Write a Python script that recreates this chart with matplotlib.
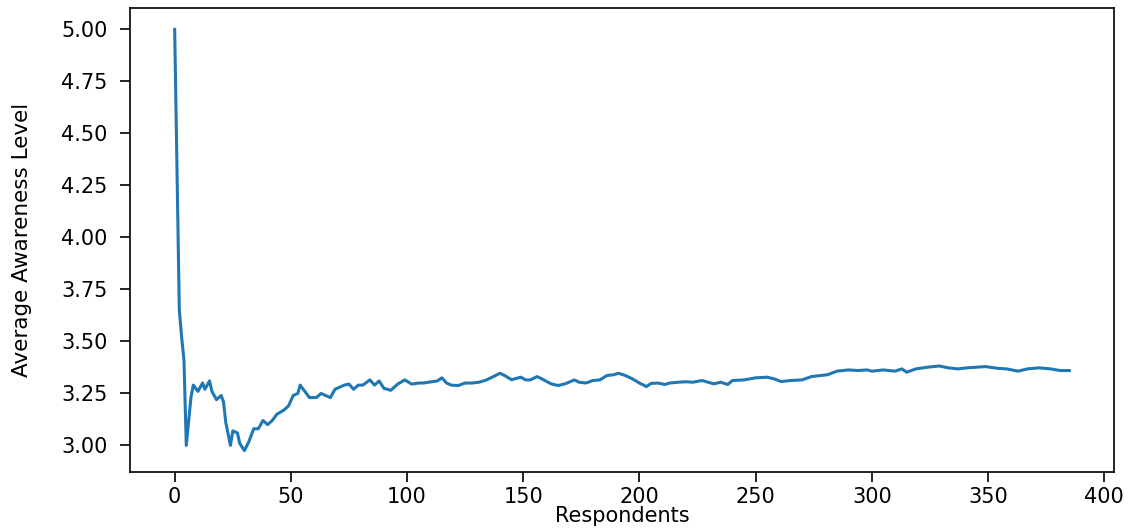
import matplotlib
matplotlib.use("Agg")
import matplotlib.pyplot as plt

# running average awareness level
respondents = [0, 2, 3, 4, 5, 7, 8, 10, 12, 13, 15, 16, 18, 20, 21, 22, 24, 25, 27,
               28, 30, 32, 34, 36, 38, 40, 42, 44, 47, 49, 51, 53, 54, 56, 58, 61, 63, 65, 67,
               69, 71, 73, 75, 77, 79, 81, 84, 86, 88, 90, 93, 96, 99, 102, 105, 107, 110, 113, 115,
               117, 119, 122, 125, 128, 131, 134, 137, 140, 142, 145, 149, 151, 153, 156, 158, 162, 165, 168, 172,
               174, 177, 180, 183, 186, 189, 191, 194, 197, 200, 203, 205, 208, 211, 213, 217, 220, 223, 227, 232,
               235, 238, 240, 245, 250, 255, 258, 261, 265, 270, 274, 278, 281, 285, 290, 294, 298, 300, 305, 310,
               313, 315, 319, 324, 329, 333, 337, 341, 345, 349, 354, 358, 363, 367, 372, 377, 381, 385]
avg_awareness = [5.0, 3.65, 3.52, 3.41, 3.0, 3.23, 3.29, 3.26, 3.30, 3.27, 3.31, 3.26, 3.22, 3.24, 3.21, 3.11, 3.00, 3.07, 3.06,
                 3.01, 2.975, 3.02, 3.08, 3.08, 3.12, 3.10, 3.12, 3.15, 3.17, 3.19, 3.24, 3.25, 3.29, 3.26, 3.23, 3.23, 3.25, 3.24, 3.23,
                 3.27, 3.28, 3.29, 3.295, 3.27, 3.29, 3.29, 3.315, 3.29, 3.31, 3.275, 3.265, 3.295, 3.315, 3.295, 3.30, 3.30, 3.305, 3.31, 3.325,
                 3.30, 3.29, 3.288, 3.30, 3.30, 3.304, 3.314, 3.33, 3.347, 3.336, 3.316, 3.328, 3.315, 3.315, 3.331, 3.32, 3.296, 3.288, 3.296, 3.315,
                 3.304, 3.30, 3.312, 3.315, 3.336, 3.34, 3.347, 3.336, 3.32, 3.30, 3.283, 3.298, 3.30, 3.293, 3.30, 3.304, 3.306, 3.304, 3.312, 3.296,
                 3.304, 3.293, 3.312, 3.315, 3.325, 3.328, 3.32, 3.307, 3.312, 3.315, 3.331, 3.336, 3.34, 3.357, 3.363, 3.36, 3.363, 3.357, 3.363, 3.357,
                 3.368, 3.352, 3.368, 3.376, 3.382, 3.373, 3.368, 3.373, 3.376, 3.379, 3.371, 3.368, 3.357, 3.368, 3.373, 3.368, 3.36, 3.36]

x_ticks = [0, 50, 100, 150, 200, 250, 300, 350, 400]
y_ticks = [3.00, 3.25, 3.50, 3.75, 4.00, 4.25, 4.50, 4.75, 5.00]

fig = plt.figure(figsize=(11.28, 5.3), dpi=100)
ax = fig.add_axes([0.1152, 0.110, 0.8724, 0.8743])

ax.plot(respondents, avg_awareness, color="#1f77b4", linewidth=2.2)

ax.set_xticks(x_ticks)
ax.set_yticks(y_ticks)
ax.set_yticklabels([f"{v:.2f}" for v in y_ticks])
ax.tick_params(axis="both", labelsize=15, length=7, width=1.2)
ax.tick_params(axis="y", pad=9)
ax.tick_params(axis="x", pad=4)
for s in ax.spines.values():
    s.set_linewidth(1.2)

ax.set_xlabel("Respondents", fontsize=15)
ax.xaxis.set_label_coords(0.5, -0.073)
ax.set_ylabel("Average Awareness Level", fontsize=15.5)
ax.yaxis.set_label_coords(-0.1, 0.5)

fig.savefig("out.png", dpi=100)
